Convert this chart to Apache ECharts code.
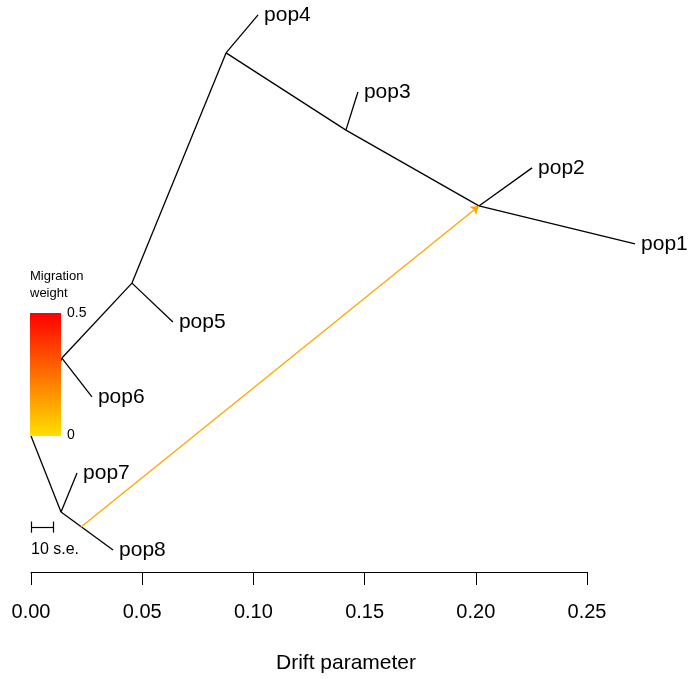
<!DOCTYPE html>
<html>
<head>
<meta charset="utf-8">
<script src="https://cdn.jsdelivr.net/npm/echarts@6/dist/echarts.min.js"></script>
<style>html,body{margin:0;padding:0;background:#fff}#c{width:688px;height:679px}</style>
</head>
<body>
<div id="c"></div>
<script>
// Node positions (drift units; y uses the same scale as x)
const nodeNames = ['root','n6','n5','n4','n3','n12','n78','pop1','pop2','pop3','pop4','pop5','pop6','pop7','pop8'];
const nodeX = [0.0000,0.0139,0.0454,0.0877,0.1416,0.2014,0.0135,0.2716,0.2253,0.1470,0.1021,0.0638,0.0274,0.0207,0.0369];
const nodeY = [0.0612,0.0962,0.1299,0.2334,0.1987,0.1646,0.0270,0.1475,0.1817,0.2158,0.2505,0.1124,0.0787,0.0445,0.0099];
// Tree edges (parent -> child)
const edgeFrom = ['root','root','n6','n6','n5','n5','n4','n4','n3','n3','n12','n12','n78','n78'];
const edgeTo   = ['n6','n78','n5','pop6','n4','pop5','pop4','n3','pop3','n12','pop2','pop1','pop7','pop8'];
const leaves = ['pop1','pop2','pop3','pop4','pop5','pop6','pop7','pop8'];
// Migration edge
const migFrom = [0.0225, 0.0202];
const migTo = 'n12';
const migWeight = 0.25;
// Axis ticks
const xTicks = [0.00,0.05,0.10,0.15,0.20,0.25];
const seLength = 0.0099; // 10 s.e.

const FONT = 'Liberation Sans, Arial, Helvetica, sans-serif';
const pos = n => { const i = nodeNames.indexOf(n); return [nodeX[i], nodeY[i]]; };

const treeData = edgeFrom.map((f,i)=>({coords:[pos(f), pos(edgeTo[i])]}));
const leafData = leaves.map(n => ({name:n, value:pos(n)}));

const seY = 0.0202, seTick = 0.0025;
const seData = [
  {coords:[[0,seY],[seLength,seY]]},
  {coords:[[0,seY-seTick],[0,seY+seTick]]},
  {coords:[[seLength,seY-seTick],[seLength,seY+seTick]]}
];

const chart = echarts.init(document.getElementById('c'));
chart.setOption({
  animation:false,
  grid:{left:31,right:101,top:0,bottom:107},
  xAxis:{type:'value',min:xTicks[0],max:xTicks[xTicks.length-1],interval:0.05,
    axisLine:{show:true,lineStyle:{color:'#000',width:1}},
    axisTick:{show:true,length:13,lineStyle:{color:'#000',width:1}},
    splitLine:{show:false},
    axisLabel:{fontSize:20,color:'#000',fontFamily:FONT,margin:30,formatter:v=>v.toFixed(2)}
  },
  yAxis:{type:'value',min:0,max:572/2224,show:false,splitLine:{show:false}},
  series:[
    {type:'lines',coordinateSystem:'cartesian2d',clip:false,silent:true,
     lineStyle:{color:'#000',width:1.3,opacity:1},data:treeData},
    {type:'lines',coordinateSystem:'cartesian2d',clip:false,silent:true,
     symbol:['none','arrow'],symbolSize:8,
     lineStyle:{color:'#FFA500',width:1.3,opacity:1},
     data:[{coords:[migFrom,pos(migTo)]}]},
    {type:'lines',coordinateSystem:'cartesian2d',clip:false,silent:true,
     lineStyle:{color:'#000',width:1.2,opacity:1},data:seData},
    {type:'scatter',clip:false,symbolSize:0,silent:true,data:leafData,
     itemStyle:{opacity:1},
     label:{show:true,position:'right',distance:6,formatter:'{b}',fontSize:21,color:'#000',opacity:1,fontFamily:FONT}}
  ],
  graphic:[
    {type:'rect',z:100,shape:{x:30,y:313,width:31,height:123},
     style:{fill:new echarts.graphic.LinearGradient(0,0,0,1,[
       {offset:0,color:'#FF0000'},{offset:0.5,color:'#FF7000'},{offset:1,color:'#FFE000'}])}},
    {type:'text',z:100,left:30,top:270,style:{text:'Migration',fill:'#000',font:'13px '+FONT}},
    {type:'text',z:100,left:30,top:287,style:{text:'weight',fill:'#000',font:'13px '+FONT}},
    {type:'text',z:100,left:67,top:306,style:{text:'0.5',fill:'#000',font:'14px '+FONT}},
    {type:'text',z:100,left:67,top:428,style:{text:'0',fill:'#000',font:'14px '+FONT}},
    {type:'text',z:100,left:31,top:542,style:{text:'10 s.e.',fill:'#000',font:'16px '+FONT}},
    {type:'text',z:100,x:346,y:663,style:{text:'Drift parameter',fill:'#000',font:'21px '+FONT,align:'center',verticalAlign:'middle'}}
  ]
});
</script>
</body>
</html>
